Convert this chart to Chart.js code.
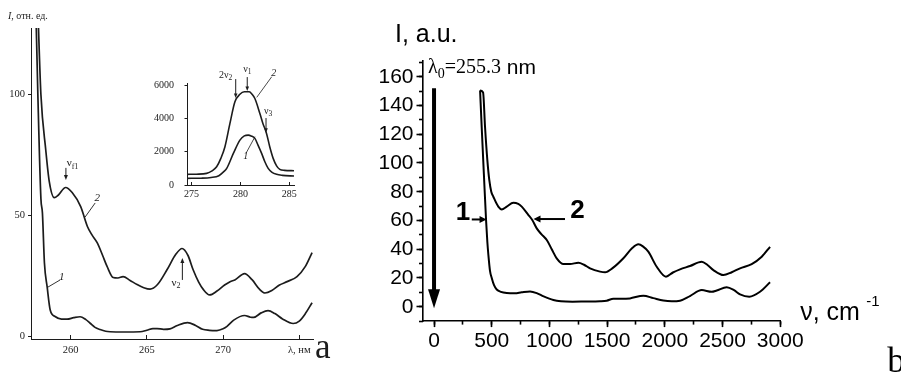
<!DOCTYPE html>
<html>
<head>
<meta charset="utf-8">
<script src="https://cdn.jsdelivr.net/npm/chart.js@4.4.0/dist/chart.umd.min.js"></script>
<style>
  html, body { margin: 0; padding: 0; background: #fff; }
  #wrap { position: relative; width: 901px; height: 374px; overflow: hidden; }
  #wrap canvas { position: absolute; left: 0; top: 0; }
</style>
</head>
<body>
<div id="wrap">
  <canvas id="panelA" width="901" height="374"></canvas>
  <canvas id="panelInset" width="901" height="374"></canvas>
  <canvas id="panelB" width="901" height="374"></canvas>
</div>
<script>
// ---------- Panel a: emission spectra, wavelength (nm) vs intensity (rel. units) ----------
const aWave1 = [257.72, 257.85, 258.05, 258.15, 258.28, 258.46, 258.66, 258.98, 259.4, 259.77, 260.2, 260.62, 261.0, 261.28, 261.6, 261.93, 262.3, 262.59, 263.5, 264.56, 265.0, 265.4, 265.67, 266.1, 266.52, 267.0, 267.67, 268.2, 268.66, 269.1, 269.6, 270.0, 270.26, 270.7, 271.41, 271.8, 272.0, 272.5, 272.95, 273.4, 273.9, 274.6, 275.0, 275.4, 275.84];
const aCurve1 = [135, 100, 57, 51, 30.5, 20.5, 11, 8.3, 7.2, 7.2, 7.8, 8.2, 7.0, 5.5, 3.8, 2.9, 2.2, 2.0, 1.9, 2.0, 2.6, 3.3, 3.3, 3.0, 3.2, 4.6, 5.8, 4.6, 3.0, 2.6, 2.5, 3.2, 4.2, 6.8, 8.7, 8.0, 7.9, 9.8, 10.7, 9.5, 7.3, 5.4, 6.4, 9.5, 14];
const aWave2 = [257.85, 258.05, 258.37, 258.6, 258.92, 259.2, 259.67, 260.1, 260.66, 261.1, 261.4, 261.74, 262.1, 262.39, 262.79, 263.1, 263.44, 263.9, 264.36, 264.8, 265.21, 265.7, 266.33, 266.9, 267.31, 267.7, 268.03, 268.4, 268.7, 269.12, 269.6, 270.1, 270.46, 270.8, 271.41, 271.9, 272.4, 272.75, 273.2, 273.7, 274.2, 274.85, 275.4, 275.84];
const aCurve2 = [135, 100, 77, 64, 57.4, 58.5, 61.6, 59.5, 53.7, 45.5, 42, 38.8, 33.5, 29, 24.4, 24.2, 24.8, 23.2, 21.5, 20.2, 19.6, 21.5, 27.7, 34, 36.4, 33.5, 27.7, 22.5, 19.5, 17.2, 18.8, 21.3, 22.7, 23.5, 26, 23.5, 19.5, 18.0, 19.0, 21.3, 22.7, 24.8, 29, 34.7];
const aWaveTicks = [260, 265, 270, 275];
const aIntensityTicks = [0, 50, 100];

// ---------- Inset: the 275-285 nm band ----------
const iWave1 = [274.54, 276.0, 277.0, 277.8, 278.3, 278.6, 279.28, 279.95, 280.4, 280.8, 281.1, 281.48, 281.8, 282.17, 282.5, 282.84, 283.2, 283.7, 284.3, 285.48];
const iCurve1 = [400, 410, 450, 560, 800, 1000, 1900, 2700, 2950, 3000, 2950, 2800, 2400, 1900, 1400, 1000, 780, 640, 580, 540];
const iWave2 = [274.54, 275.5, 276.55, 277.1, 277.57, 278.0, 278.42, 278.93, 279.44, 279.95, 280.4, 280.9, 281.2, 281.48, 281.99, 282.3, 282.67, 283.0, 283.35, 283.7, 284.03, 284.5, 285.48];
const iCurve2 = [640, 650, 700, 850, 1100, 1600, 2300, 3700, 5000, 5450, 5600, 5600, 5450, 5200, 4300, 3700, 3100, 2300, 1600, 1150, 940, 880, 860];
const iWaveTicks = [275, 280, 285];
const iIntensityTicks = [0, 2000, 4000, 6000];

// ---------- Panel b: Raman shift (cm-1) vs intensity (a.u.) ----------
const bShift1 = [399, 413, 433, 451, 462, 471, 485, 500, 520, 543, 580, 630, 700, 760, 832, 890, 950, 1034, 1100, 1200, 1300, 1439, 1496, 1554, 1620, 1698, 1814, 1900, 1987, 2060, 2132, 2218, 2320, 2406, 2450, 2536, 2600, 2652, 2732, 2825, 2912];
const bCurve1 = [150.5, 125, 90.4, 60, 45, 36, 25, 20, 15, 12, 10.3, 9.5, 9.3, 10, 10.6, 9.5, 7.2, 4.7, 3.8, 3.5, 3.6, 3.8, 4.2, 5.6, 5.5, 5.8, 7.7, 6.0, 4.3, 3.8, 4.2, 7.4, 11.6, 10.4, 11.3, 13.5, 11.5, 8.6, 7.0, 10.4, 17];
const bShift2 = [399, 425, 442, 462, 479, 496, 514, 557, 587, 630, 687, 730, 760, 818, 850, 890, 930, 977, 1020, 1063, 1121, 1179, 1251, 1300, 1352, 1439, 1482, 1550, 1641, 1720, 1771, 1810, 1857, 1930, 2010, 2070, 2132, 2218, 2320, 2370, 2421, 2508, 2580, 2652, 2753, 2840, 2912];
const bCurve2 = [150.5, 149, 125, 102, 88, 80, 76.5, 69.6, 67.7, 69.6, 72.3, 71.5, 69.6, 63.8, 60.5, 54.5, 50.5, 46.4, 40, 33.7, 29.7, 29.7, 30.6, 29.2, 26.7, 24.4, 23.9, 27, 33.7, 41, 43.4, 42, 38.3, 27.8, 20.9, 23.8, 26, 28.3, 31.3, 29, 25.5, 22, 24, 26.7, 29.7, 34.8, 41.7];
const bShiftTicks = [0, 500, 1000, 1500, 2000, 2500, 3000];
const bShiftMinorTicks = [0, 250, 500, 750, 1000, 1250, 1500, 1750, 2000, 2250, 2500, 2750, 3000];
const bIntensityTicks = [0, 20, 40, 60, 80, 100, 120, 140, 160];
const bIntensityMinorTicks = [-10, 0, 10, 20, 30, 40, 50, 60, 70, 80, 90, 100, 110, 120, 130, 140, 150, 160, 170];
// excitation line at 0 cm-1 (lambda0 = 255.3 nm)
const laserShift = 0;
const laserTop = 152;
const laserTip = -1;

const serif = '"Liberation Serif", "Times New Roman", serif';
const sans = '"Liberation Sans", Arial, sans-serif';
const inkA = '#1c1c1c';
const inkB = '#000';

const pts = (xs, ys) => xs.map((v, i) => ({ x: v, y: ys[i] }));
const fixedTicks = values => scale => { scale.ticks = values.map(v => ({ value: v })); };

function drawRich(ctx, parts, x, y, align, baseline) {
  let total = 0;
  parts.forEach(p => { ctx.font = p[1]; total += ctx.measureText(p[0]).width; });
  let cx = align === 'center' ? x - total / 2 : align === 'right' ? x - total : x;
  ctx.textAlign = 'left';
  ctx.textBaseline = baseline || 'middle';
  parts.forEach(p => {
    ctx.font = p[1];
    ctx.fillText(p[0], cx, y + (p[2] || 0));
    cx += ctx.measureText(p[0]).width;
  });
}

function drawArrow(ctx, x1, y1, x2, y2, o) {
  const a = Math.atan2(y2 - y1, x2 - x1);
  const c = Math.cos(a), s = Math.sin(a);
  ctx.save();
  ctx.strokeStyle = ctx.fillStyle = o.color;
  ctx.lineWidth = o.width;
  ctx.beginPath();
  ctx.moveTo(x1, y1);
  ctx.lineTo(x2 - c * o.head * 0.7, y2 - s * o.head * 0.7);
  ctx.stroke();
  ctx.beginPath();
  ctx.moveTo(x2, y2);
  ctx.lineTo(x2 - c * o.head - s * o.half, y2 - s * o.head + c * o.half);
  ctx.lineTo(x2 - c * o.head + s * o.half, y2 - s * o.head - c * o.half);
  ctx.closePath();
  ctx.fill();
  ctx.restore();
}

function drawLine(ctx, x1, y1, x2, y2, color, width) {
  ctx.save();
  ctx.strokeStyle = color; ctx.lineWidth = width;
  ctx.beginPath(); ctx.moveTo(x1, y1); ctx.lineTo(x2, y2); ctx.stroke();
  ctx.restore();
}

const common = {
  responsive: false,
  animation: false,
  devicePixelRatio: 1,
  events: [],
  plugins: { legend: { display: false }, tooltip: { enabled: false } }
};

const lineSet = (data, color, width) => ({
  data, borderColor: color, borderWidth: width, pointRadius: 0,
  fill: false, cubicInterpolationMode: 'monotone'
});

// ---------- Panel a ----------
const panelANotes = {
  id: 'panelANotes',
  afterDatasetsDraw(chart) {
    const { ctx, chartArea } = chart;
    const X = v => chart.scales.x.getPixelForValue(v);
    const Y = v => chart.scales.y.getPixelForValue(v);
    const f = (sz, st) => `${st || ''} ${sz}px ${serif}`;
    ctx.save();
    ctx.fillStyle = inkA;
    drawRich(ctx, [['I', f(10, 'italic')], [', отн. ед.', f(10)]], chartArea.left - 23, chartArea.top - 12, 'left');
    // nu_f1 marker
    drawRich(ctx, [['ν', f(11)], ['f1', f(8), 3]], X(259.74), Y(71.5), 'left');
    drawArrow(ctx, X(259.69), Y(69.7), X(259.69), Y(64.7), { color: inkA, width: 1, head: 5, half: 2 });
    // curve 2 label
    drawRich(ctx, [['2', f(11, 'italic')]], X(261.74), Y(57.3), 'center');
    drawLine(ctx, X(261.61), Y(55.2), X(260.95), Y(49.4), inkA, 0.9);
    // curve 1 label
    drawRich(ctx, [['1', f(11, 'italic')]], X(259.42), Y(24.6), 'center');
    drawLine(ctx, X(259.31), Y(23.4), X(258.5), Y(20.4), inkA, 0.9);
    // nu_2 marker
    drawRich(ctx, [['ν', f(11)], ['2', f(8), 3]], X(266.62), Y(22.1), 'left');
    drawArrow(ctx, X(267.33), Y(23.4), X(267.33), Y(32.5), { color: inkA, width: 1, head: 5, half: 2 });
    // panel letter
    drawRich(ctx, [['a', f(35)]], chartArea.right + 2, 358, 'left', 'alphabetic');
    ctx.restore();
  }
};

new Chart(document.getElementById('panelA'), {
  type: 'line',
  data: { datasets: [lineSet(pts(aWave1, aCurve1), inkA, 1.7), lineSet(pts(aWave2, aCurve2), inkA, 1.7)] },
  options: Object.assign({}, common, {
    layout: { padding: { left: 0, top: 28, right: 588, bottom: 0 } },
    scales: {
      x: {
        type: 'linear', min: 257.4, max: 275.9,
        afterBuildTicks: fixedTicks(aWaveTicks),
        afterFit: s => { s.height = 35; },
        border: { display: true, color: inkA, width: 1 },
        grid: { display: true, drawOnChartArea: false, drawTicks: true, tickLength: -4, tickColor: inkA, tickWidth: 1 },
        ticks: {
          autoSkip: false, maxRotation: 0, padding: 8.7,
          color: inkA, font: { family: serif, size: 10.5 },
          callback: v => (v === 275 ? 'λ, нм' : String(v))
        }
      },
      y: {
        type: 'linear', min: -1, max: 127.5,
        afterBuildTicks: fixedTicks(aIntensityTicks),
        afterFit: s => { s.width = 31; },
        border: { display: true, color: inkA, width: 1 },
        grid: { display: true, drawOnChartArea: false, drawTicks: true, tickLength: 3, tickColor: inkA, tickWidth: 1 },
        ticks: {
          autoSkip: false, padding: 3,
          color: inkA, font: { family: serif, size: 10.5 },
          callback: v => String(v)
        }
      }
    }
  }),
  plugins: [panelANotes]
});

// ---------- Inset ----------
const insetNotes = {
  id: 'insetNotes',
  afterDatasetsDraw(chart) {
    const { ctx } = chart;
    const X = v => chart.scales.x.getPixelForValue(v);
    const Y = v => chart.scales.y.getPixelForValue(v);
    const f = (sz, st) => `${st || ''} ${sz}px ${serif}`;
    const arr = { color: inkA, width: 1, head: 4.5, half: 1.8 };
    ctx.save();
    ctx.fillStyle = inkA;
    drawRich(ctx, [['2ν', f(10)], ['2', f(7.5), 2.5]], X(277.81), Y(6607), 'left');
    drawArrow(ctx, X(279.52), Y(6366), X(279.52), Y(5225), arr);
    drawRich(ctx, [['ν', f(10)], ['1', f(7.5), 2.5]], X(280.3), Y(6949), 'left');
    drawArrow(ctx, X(280.7), Y(6486), X(280.7), Y(5646), arr);
    drawRich(ctx, [['2', f(10, 'italic')]], X(283.42), Y(6709), 'center');
    drawLine(ctx, X(283.2), Y(6504), X(281.67), Y(5267), inkA, 0.8);
    drawRich(ctx, [['ν', f(10)], ['3', f(7.5), 2.5]], X(282.41), Y(4402), 'left');
    drawArrow(ctx, X(282.62), Y(4024), X(282.62), Y(3141), arr);
    drawRich(ctx, [['1', f(10, 'italic')]], X(280.54), Y(1700), 'center');
    drawLine(ctx, X(280.57), Y(1904), X(281.49), Y(2901), inkA, 0.8);
    ctx.restore();
  }
};

new Chart(document.getElementById('panelInset'), {
  type: 'line',
  data: { datasets: [lineSet(pts(iWave1, iCurve1), inkA, 1.6), lineSet(pts(iWave2, iCurve2), inkA, 1.6)] },
  options: Object.assign({}, common, {
    layout: { padding: { left: 147, top: 83, right: 607, bottom: 169 } },
    scales: {
      x: {
        type: 'linear', min: 274.54, max: 285.48,
        afterBuildTicks: fixedTicks(iWaveTicks),
        afterFit: s => { s.height = 20; },
        border: { display: true, color: inkA, width: 1 },
        grid: { display: true, drawOnChartArea: false, drawTicks: true, tickLength: -3, tickColor: inkA, tickWidth: 1 },
        ticks: {
          autoSkip: false, maxRotation: 0, padding: 6,
          color: inkA, font: { family: serif, size: 10 }, callback: v => String(v)
        }
      },
      y: {
        type: 'linear', min: 0, max: 6130,
        afterBuildTicks: fixedTicks(iIntensityTicks),
        afterFit: s => { s.width = 40; },
        border: { display: true, color: inkA, width: 1 },
        grid: { display: true, drawOnChartArea: false, drawTicks: true, tickLength: 2.5, tickColor: inkA, tickWidth: 1 },
        ticks: {
          autoSkip: false, padding: 10.5,
          color: inkA, font: { family: serif, size: 10 }, callback: v => String(v)
        }
      }
    }
  }),
  plugins: [insetNotes]
});

// ---------- Panel b ----------
const panelBNotes = {
  id: 'panelBNotes',
  afterDatasetsDraw(chart) {
    const { ctx, chartArea } = chart;
    const X = v => chart.scales.x.getPixelForValue(v);
    const Y = v => chart.scales.y.getPixelForValue(v);
    ctx.save();
    ctx.fillStyle = inkB;
    drawRich(ctx, [['I, a.u.', `25px ${sans}`]], chartArea.left - 27.5, chartArea.top - 26, 'left');
    drawRich(ctx, [['λ', `20px ${serif}`], ['0', `14px ${serif}`, 6], ['=255.3', `20px ${serif}`], [' nm', `21px ${sans}`]],
      chartArea.left + 5.5, chartArea.top + 7, 'left');
    // excitation line
    drawArrow(ctx, X(laserShift), Y(laserTop), X(laserShift), Y(laserTip), { color: inkB, width: 4, head: 19, half: 6 });
    // curve labels
    drawRich(ctx, [['1', `bold 26px ${sans}`]], X(251), Y(65.2), 'center');
    drawArrow(ctx, X(327), Y(60.7), X(455), Y(60.7), { color: inkB, width: 2, head: 7, half: 3.5 });
    drawRich(ctx, [['2', `bold 26px ${sans}`]], X(1243), Y(66.6), 'center');
    drawArrow(ctx, X(1135), Y(61), X(862), Y(61), { color: inkB, width: 2, head: 7, half: 3.5 });
    // x axis caption
    drawRich(ctx, [['ν, cm', `25px ${sans}`]], chartArea.right + 20, 320, 'left', 'alphabetic');
    drawRich(ctx, [['-1', `15px ${sans}`]], chartArea.right + 86, 306, 'left', 'alphabetic');
    // panel letter
    drawRich(ctx, [['b', `36px ${serif}`]], chartArea.right + 107, 372, 'left', 'alphabetic');
    ctx.restore();
  }
};

const majorTickFont = { family: sans, size: 21 };

new Chart(document.getElementById('panelB'), {
  type: 'line',
  data: { datasets: [lineSet(pts(bShift1, bCurve1), inkB, 2), lineSet(pts(bShift2, bCurve2), inkB, 2)] },
  options: Object.assign({}, common, {
    layout: { padding: { left: 0, top: 60.9, right: 120.8, bottom: 0 } },
    scales: {
      x: {
        type: 'linear', position: 'bottom', weight: 1, min: -100, max: 3000,
        afterBuildTicks: fixedTicks(bShiftTicks),
        afterFit: s => { s.height = 52.9; },
        border: { display: true, color: inkB, width: 1.6 },
        grid: { display: true, drawOnChartArea: false, drawTicks: true, tickLength: 6, tickColor: inkB, tickWidth: 1.6 },
        ticks: {
          autoSkip: false, maxRotation: 0, padding: 1.3,
          color: inkB, font: majorTickFont, callback: v => String(v)
        }
      },
      xMinor: {
        type: 'linear', position: 'bottom', weight: 0, display: true, min: -100, max: 3000,
        afterBuildTicks: fixedTicks(bShiftMinorTicks),
        afterFit: s => { s.height = 0; },
        border: { display: false },
        grid: { display: true, drawOnChartArea: false, drawTicks: true, tickLength: 3.5, tickColor: inkB, tickWidth: 1.6 },
        ticks: { display: false }
      },
      y: {
        type: 'linear', position: 'left', weight: 1, min: -10, max: 171,
        afterBuildTicks: fixedTicks(bIntensityTicks),
        afterFit: s => { s.width = 422.5; },
        border: { display: true, color: inkB, width: 1.6 },
        grid: { display: true, drawOnChartArea: false, drawTicks: true, tickLength: 6, tickColor: inkB, tickWidth: 1.6 },
        ticks: {
          autoSkip: false, padding: 3,
          color: inkB, font: majorTickFont, callback: v => String(v)
        }
      },
      yMinor: {
        type: 'linear', position: 'left', weight: 0, display: true, min: -10, max: 171,
        afterBuildTicks: fixedTicks(bIntensityMinorTicks),
        afterFit: s => { s.width = 0; },
        border: { display: false },
        grid: { display: true, drawOnChartArea: false, drawTicks: true, tickLength: 3.5, tickColor: inkB, tickWidth: 1.6 },
        ticks: { display: false }
      }
    }
  }),
  plugins: [panelBNotes]
});
</script>
</body>
</html>
